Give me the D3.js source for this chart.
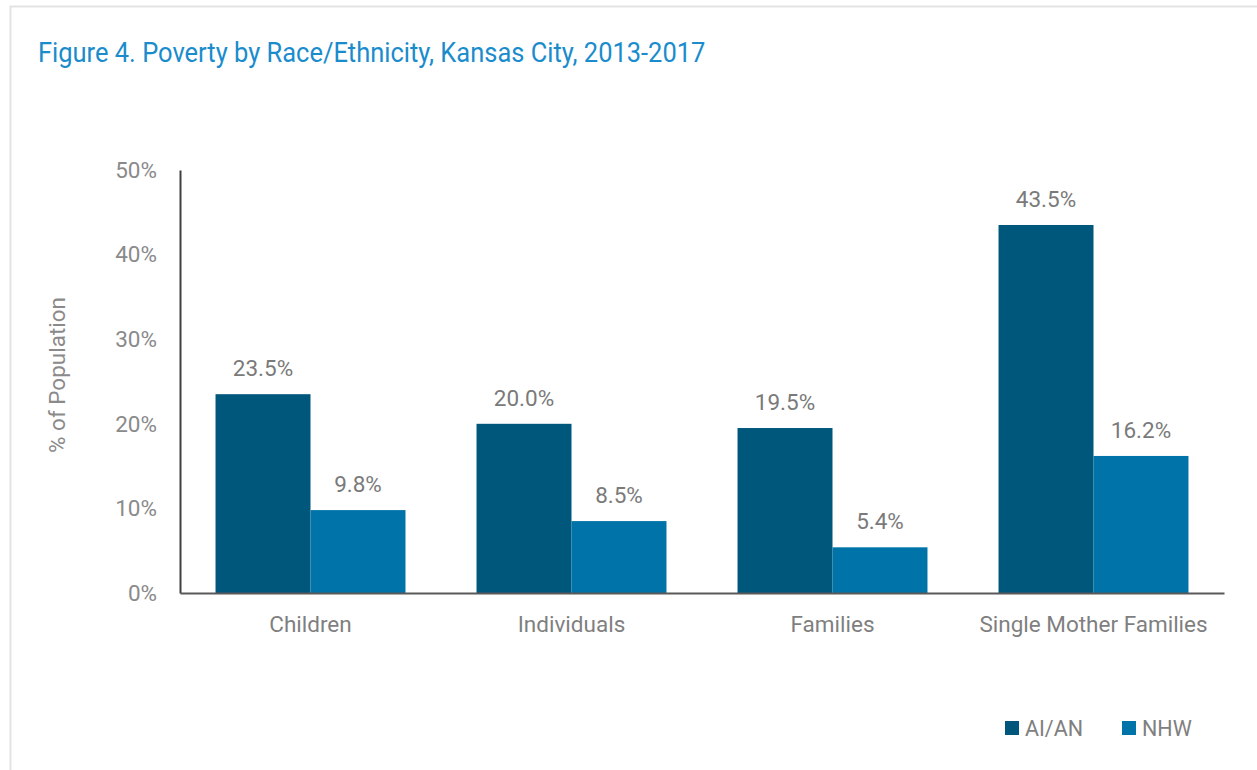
<!DOCTYPE html>
<html>
<head>
<meta charset="utf-8">
<script src="https://cdn.jsdelivr.net/npm/d3@7"></script>
<style>
  body { margin: 0; background: #fff; }
  svg text { font-family: "Roboto", "Liberation Sans", sans-serif; }
</style>
</head>
<body>
<div id="chart"></div>
<script>
const categories = ["Children", "Individuals", "Families", "Single Mother Families"];
const series = ["AI/AN", "NHW"];
const aianValues = [23.5, 20.0, 19.5, 43.5];
const nhwValues = [9.8, 8.5, 5.4, 16.2];
const yTicks = [0, 10, 20, 30, 40, 50];
const colors = ["#00577c", "#0073a8"];

const data = categories.map((c, i) => ({cat: c, vals: [aianValues[i], nhwValues[i]]}));

const svgWidth = 1257, svgHeight = 770;
const svg = d3.select("#chart").append("svg")
    .attr("width", svgWidth).attr("height", svgHeight);

// frame
svg.append("line").attr("x1", 10).attr("x2", svgWidth).attr("y1", 6.5).attr("y2", 6.5)
    .attr("stroke", "#e3e3e3").attr("stroke-width", 2);
svg.append("line").attr("x1", 10.5).attr("x2", 10.5).attr("y1", 6).attr("y2", svgHeight)
    .attr("stroke", "#e3e3e3").attr("stroke-width", 2);

// title (narrowed a bit to mimic the condensed face)
svg.append("text")
    .attr("transform", "translate(38,62) scale(0.91,1)")
    .attr("fill", "#1a8ccc")
    .style("font-size", "28px")
    .text("Figure 4. Poverty by Race/Ethnicity, Kansas City, 2013-2017");

const margin = {top: 170, left: 180, right: 33, bottom: 177};
const width = svgWidth - margin.left - margin.right,
      height = svgHeight - margin.top - margin.bottom;

const g = svg.append("g")
    .attr("transform", "translate(" + margin.left + "," + margin.top + ")");

const x0 = d3.scaleBand().domain(categories).range([0, width]).padding(0);
const x1 = d3.scaleBand().domain(series).range([0, x0.bandwidth()])
    .paddingInner(0).paddingOuter(0.374);
const y = d3.scaleLinear().domain([0, 50]).range([height, 0]);

// Y axis
const yAxis = g.append("g")
    .call(d3.axisLeft(y).tickValues(yTicks).tickSize(0).tickPadding(23).tickFormat(d => d + "%"));
yAxis.select(".domain").attr("stroke", "#404040").attr("stroke-width", 2);
yAxis.selectAll("text").attr("fill", "#8a8a8a").style("font-size", "22.5px");

// bars
const groups = g.selectAll(".grp").data(data).enter().append("g")
    .attr("transform", d => "translate(" + x0(d.cat) + ",0)");
groups.selectAll("rect")
    .data(d => d.vals.map((v, i) => ({s: series[i], v: v, i: i})))
    .enter().append("rect")
    .attr("x", d => x1(d.s))
    .attr("y", d => y(d.v))
    .attr("width", x1.bandwidth())
    .attr("height", d => height - y(d.v))
    .attr("fill", d => colors[d.i]);

groups.selectAll(".val")
    .data(d => d.vals.map((v, i) => ({s: series[i], v: v})))
    .enter().append("text")
    .attr("x", d => x1(d.s) + x1.bandwidth() / 2)
    .attr("y", d => y(d.v) - 18)
    .attr("text-anchor", "middle")
    .attr("fill", "#7a7a7a")
    .style("font-size", "22.5px")
    .text(d => d.v.toFixed(1) + "%");

// X axis
const xAxis = g.append("g")
    .attr("transform", "translate(0," + height + ")")
    .call(d3.axisBottom(x0).tickSize(0).tickPadding(23));
xAxis.select(".domain").attr("stroke", "#595959").attr("stroke-width", 2);
xAxis.selectAll("text").attr("fill", "#7f7f7f").style("font-size", "22.5px");

// y title
svg.append("text")
    .attr("transform", "translate(65,375) rotate(-90)")
    .attr("text-anchor", "middle")
    .attr("fill", "#8a8a8a")
    .style("font-size", "22.5px")
    .text("% of Population");

// legend
const legend = svg.append("g").attr("transform", "translate(1005,721)");
const lx = [0, 117];
series.forEach((s, i) => {
  legend.append("rect").attr("x", lx[i]).attr("y", 0).attr("width", 14).attr("height", 14)
      .attr("fill", colors[i]);
  legend.append("text").attr("x", lx[i] + 20).attr("y", 15)
      .attr("fill", "#808080").style("font-size", "21.5px").text(s);
});
</script>
</body>
</html>
